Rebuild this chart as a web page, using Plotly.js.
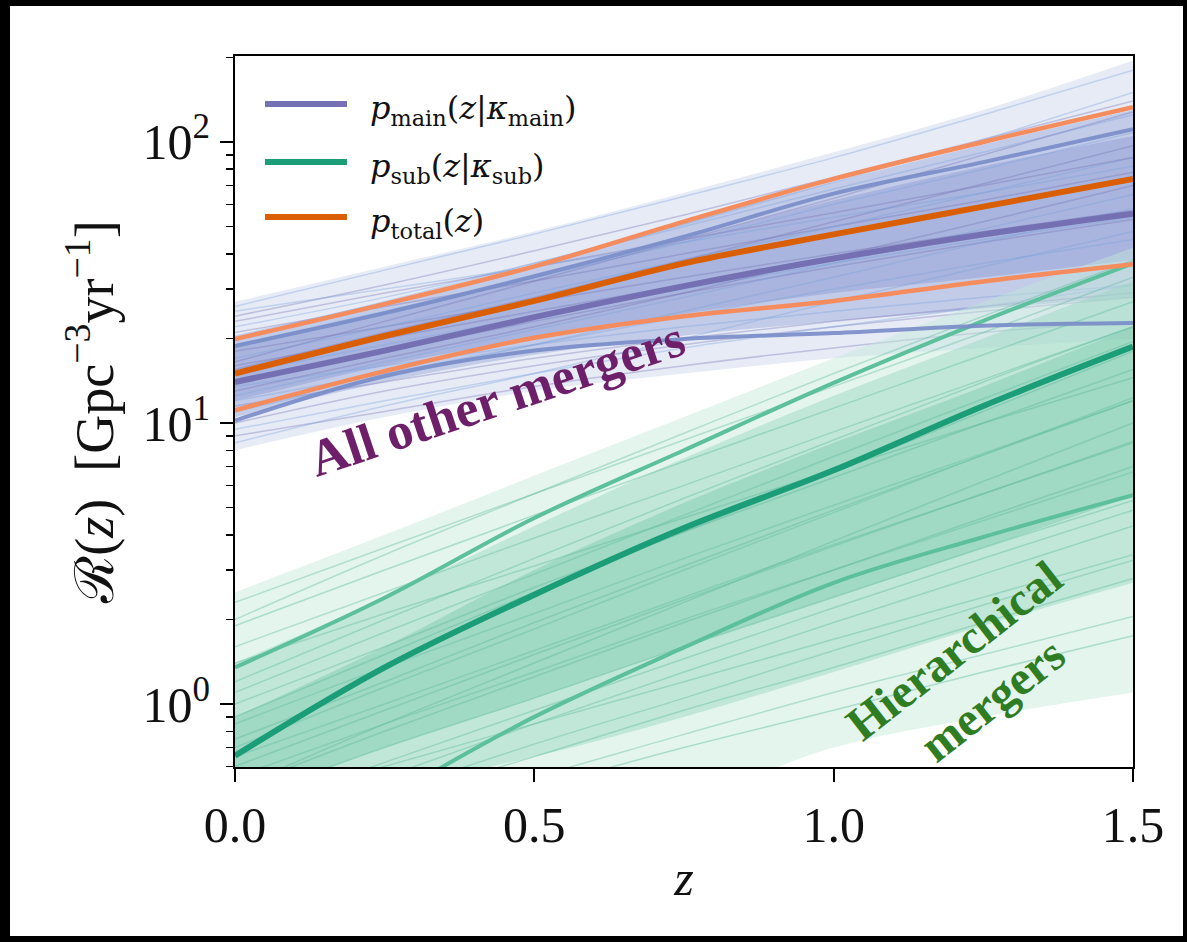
<!DOCTYPE html>
<html>
<head>
<meta charset="utf-8">
<script src="https://cdn.plot.ly/plotly-3.0.1.min.js"></script>
<style>
  html, body { margin:0; padding:0; background:#000; width:1187px; height:942px; overflow:hidden; }
  #plot { position:absolute; left:10px; top:6px; width:1173px; height:930px; background:#fff; }
</style>
</head>
<body>
<div id="plot"></div>
<script>
// redshift grid
const z = [0, 0.25, 0.5, 0.75, 1.0, 1.25, 1.5];

// key curves
const totalMedian = [15.0, 20.4, 27.2, 37.0, 46.9, 58.9, 73.9];
const totalUpper  = [19.9, 26.5, 36.1, 52.1, 73.9, 100, 133];
const totalLower  = [11.1, 15.3, 20.1, 24.0, 27.2, 31.9, 36.7];
const mainMedian  = [14.0, 18.1, 23.8, 30.7, 38.5, 46.9, 55.6];
const mainUpper   = [18.8, 24.6, 33.3, 46.0, 65.5, 84.8, 111];
const mainLower   = [10.2, 14.7, 18.1, 19.9, 20.9, 22.2, 22.7];
const subMedian   = [0.655, 1.35, 2.45, 4.23, 6.79, 11.5, 18.7];
const subUpper    = [1.35, 2.39, 4.59, 8.0, 13.9, 23.1, 37.0];
const subLower    = [0.24, 0.46, 0.90, 1.59, 2.70, 3.93, 5.54];

// density envelopes of the posterior draws
const mainOuterHi = [27, 36, 48, 66, 92, 130, 195];
const mainOuterLo = [8.0, 10.5, 13, 15, 17, 18.5, 20];
const mainInnerHi = [20.5, 27, 36, 52, 72, 98, 130];
const mainInnerLo = [10.5, 14, 17.5, 20.5, 23, 25.5, 28];
const mainCoreHi  = [19, 25, 33, 45, 62, 82, 105];
const mainCoreLo  = [12, 16, 20, 24.5, 29, 33, 38];
const subOuterHi  = [2.5, 4.0, 6.5, 10.5, 17, 27, 42];
const subOuterLo  = [0.3, 0.3, 0.35, 0.45, 0.7, 0.9, 1.1];
const subInnerHi  = [1.4, 2.4, 4.3, 7.5, 12.5, 20, 32];
const subInnerLo  = [0.4, 0.5, 0.65, 0.9, 1.3, 1.9, 2.7];
const subCoreHi   = [0.9, 1.6, 3.0, 5.2, 8.5, 13.5, 22];
const subCoreLo   = [0.45, 0.7, 1.05, 1.6, 2.4, 3.6, 5.5];

// individual posterior draws (estimated)
const mainDraws = [
  [26, 35, 47, 64, 88, 125, 180],
  [24, 31, 41, 55, 75, 102, 140],
  [22, 28, 37, 50, 68, 92, 125],
  [21, 26, 32, 40, 50, 62, 78],
  [19, 25, 33, 44, 60, 80, 108],
  [18, 22, 27, 33, 40, 48, 57],
  [17, 22, 29, 38, 50, 66, 88],
  [16, 20, 25, 31, 38, 46, 55],
  [15, 19, 24, 30, 37, 45, 54],
  [14, 18, 23, 29, 36, 44, 53],
  [13.5, 16, 19, 22, 25, 28, 31],
  [13, 17, 22, 29, 39, 52, 70],
  [12, 15, 19, 24, 30, 37, 45],
  [11.5, 14, 17, 20, 23, 26, 29],
  [11, 14.5, 19, 25, 33, 44, 58],
  [10, 13, 16, 19, 22, 25, 28],
  [9.5, 12, 15, 18.5, 22, 26, 31],
  [9, 11, 13.5, 16, 18.5, 21, 23],
  [8.5, 11.5, 15, 20, 27, 36, 48],
  [16.5, 23, 32, 45, 63, 90, 128],
  [20, 27, 37, 51, 72, 102, 150],
  [23, 29, 36, 45, 56, 70, 88],
  [12.5, 16.5, 21.5, 28, 37, 49, 65],
  [15.5, 21, 28, 38, 52, 71, 97],
  [25, 30, 36, 44, 54, 66, 82]
];
const subDraws = [
  [2.3, 3.6, 5.6, 8.7, 13.5, 21, 33],
  [1.9, 3.0, 4.7, 7.3, 11.3, 17.5, 27],
  [1.6, 2.5, 3.9, 6.0, 9.3, 14.3, 22],
  [1.2, 2.0, 3.3, 5.4, 8.7, 14, 22],
  [1.0, 1.6, 2.6, 4.1, 6.4, 10, 15.5],
  [0.85, 1.35, 2.1, 3.3, 5.1, 7.8, 12],
  [0.75, 1.2, 1.95, 3.1, 4.9, 7.7, 12],
  [0.65, 1.0, 1.55, 2.4, 3.7, 5.6, 8.5],
  [0.6, 0.95, 1.5, 2.35, 3.65, 5.6, 8.6],
  [0.55, 0.85, 1.3, 2.0, 3.0, 4.5, 6.7],
  [0.5, 0.8, 1.25, 1.95, 3.0, 4.6, 7.0],
  [0.45, 0.7, 1.05, 1.6, 2.4, 3.6, 5.3],
  [0.4, 0.62, 0.95, 1.45, 2.2, 3.3, 4.9],
  [0.35, 0.55, 0.85, 1.3, 1.95, 2.9, 4.3],
  [0.32, 0.48, 0.72, 1.05, 1.55, 2.25, 3.25],
  [0.3, 0.45, 0.65, 0.95, 1.35, 1.95, 2.8],
  [0.28, 0.4, 0.55, 0.78, 1.1, 1.5, 2.05],
  [0.25, 0.35, 0.5, 0.7, 0.95, 1.3, 1.75],
  [1.4, 2.1, 3.1, 4.6, 6.8, 10, 14.5],
  [1.1, 1.8, 2.9, 4.7, 7.6, 12.2, 19.5],
  [0.9, 1.5, 2.5, 4.1, 6.7, 11, 18],
  [0.7, 1.15, 1.85, 3.0, 4.8, 7.7, 12.3],
  [0.5, 0.85, 1.4, 2.3, 3.8, 6.2, 10],
  [0.42, 0.6, 0.85, 1.2, 1.7, 2.4, 3.4],
  [2.0, 3.4, 5.6, 9.2, 15, 24, 38]
];

const legendLabels = [
  '<i>p</i><sub>main</sub>(<i>z</i>|<i>κ</i><sub>main</sub>)',
  '<i>p</i><sub>sub</sub>(<i>z</i>|<i>κ</i><sub>sub</sub>)',
  '<i>p</i><sub>total</sub>(<i>z</i>)'
];
const legendColors = ['#7570b3', '#1b9e77', '#d95f02'];

const traces = [];
function band(lo, hi, color) {
  traces.push({x: z, y: lo, mode: 'lines', line: {width: 0, shape: 'spline'}, hoverinfo: 'skip', showlegend: false});
  traces.push({x: z, y: hi, mode: 'lines', line: {width: 0, shape: 'spline'}, fill: 'tonexty', fillcolor: color, hoverinfo: 'skip', showlegend: false});
}
function line(y, color, width) {
  traces.push({x: z, y: y, mode: 'lines', line: {color: color, width: width, shape: 'spline'}, hoverinfo: 'skip', showlegend: false});
}

// main population draws
band(mainOuterLo, mainOuterHi, 'rgba(200,210,236,0.45)');
band(mainInnerLo, mainInnerHi, 'rgba(150,165,215,0.45)');
band(mainCoreLo, mainCoreHi, 'rgba(140,155,210,0.45)');
mainDraws.forEach((d, i) => line(d, i % 2 ? 'rgba(117,112,179,0.35)' : 'rgba(120,160,220,0.35)', 1.5));

// sub population draws
band(subOuterLo, subOuterHi, 'rgba(195,232,218,0.45)');
band(subInnerLo, subInnerHi, 'rgba(150,215,190,0.45)');
band(subCoreLo, subCoreHi, 'rgba(120,200,170,0.45)');
subDraws.forEach((d, i) => line(d, i % 2 ? 'rgba(102,194,165,0.45)' : 'rgba(80,180,150,0.35)', 1.5));

// key curves
line(subUpper, '#5cc09c', 4);
line(subLower, '#5cc09c', 4);
line(subMedian, '#1b9e77', 6);
line(mainUpper, 'rgba(120,140,200,0.9)', 4);
line(mainLower, 'rgba(120,140,200,0.9)', 4);
line(mainMedian, '#7570b3', 6);
line(totalUpper, '#f58c5e', 4.5);
line(totalLower, '#f58c5e', 4.5);
line(totalMedian, '#d95f02', 6);

const serif = 'Liberation Serif, DejaVu Serif, serif';

const shapes = [];
const annotations = [];
const legY = [0.9325, 0.8509, 0.7736];
legendLabels.forEach((lab, i) => {
  shapes.push({type: 'line', xref: 'paper', yref: 'paper', x0: 0.0334, x1: 0.1247, y0: legY[i], y1: legY[i],
    line: {color: legendColors[i], width: 6}});
  annotations.push({xref: 'paper', yref: 'paper', x: 0.148, y: legY[i] - 0.008, xanchor: 'left', yanchor: 'middle',
    text: lab, showarrow: false, font: {family: 'DejaVu Serif, serif', size: 32, color: '#111'}});
});
annotations.push({xref: 'paper', yref: 'paper', x: 0.2918, y: 0.518, xanchor: 'center', yanchor: 'middle',
  text: '<b>All other mergers</b>',
  showarrow: false, textangle: -18.5, font: {family: serif, size: 52, color: '#6e1f6a'}});
annotations.push({xref: 'paper', yref: 'paper', x: 0.822, y: 0.13, xanchor: 'center', yanchor: 'middle',
  text: '<b>Hierarchical<br>mergers</b>',
  showarrow: false, textangle: -38, font: {family: serif, size: 48, color: '#2f7d22'}});

const minorVals = [];
[0.1, 1, 10, 100].forEach(d => { for (let k = 2; k <= 9; k++) minorVals.push(k * d); });

const layout = {
  width: 1173, height: 930,
  margin: {l: 225, r: 50, t: 50, b: 169},
  paper_bgcolor: '#fff', plot_bgcolor: '#fff',
  showlegend: false,
  xaxis: {
    range: [0, 1.5], tickvals: [0, 0.5, 1.0, 1.5], ticktext: ['0.0', '0.5', '1.0', '1.5'],
    ticks: 'outside', ticklen: 13, tickwidth: 2, tickcolor: '#000',
    showline: true, linewidth: 2, linecolor: '#000', mirror: true,
    showgrid: false, zeroline: false,
    tickfont: {family: serif, size: 50, color: '#111'},
    title: {text: '<i>z</i>', font: {family: serif, size: 50, color: '#111'}, standoff: 8}
  },
  yaxis: {
    type: 'log', range: [-0.224, 2.306],
    tickvals: [1, 10, 100], ticktext: ['10<sup>0</sup>', '10<sup>1</sup>', '10<sup>2</sup>'],
    ticks: 'outside', ticklen: 13, tickwidth: 2, tickcolor: '#000',
    minor: {tickmode: 'array', tickvals: minorVals, ticks: 'outside', ticklen: 7, tickwidth: 1.5, tickcolor: '#000', showgrid: false},
    showline: true, linewidth: 2, linecolor: '#000', mirror: true,
    showgrid: false, zeroline: false,
    tickfont: {family: serif, size: 50, color: '#111'},
    title: {text: 'ℛ(<i>z</i>)  [Gpc<sup>−3</sup>yr<sup>−1</sup>]', font: {family: serif, size: 54, color: '#111'}, standoff: 12}
  },
  shapes: shapes,
  annotations: annotations
};

Plotly.newPlot('plot', traces, layout, {displayModeBar: false, staticPlot: true});
</script>
</body>
</html>
